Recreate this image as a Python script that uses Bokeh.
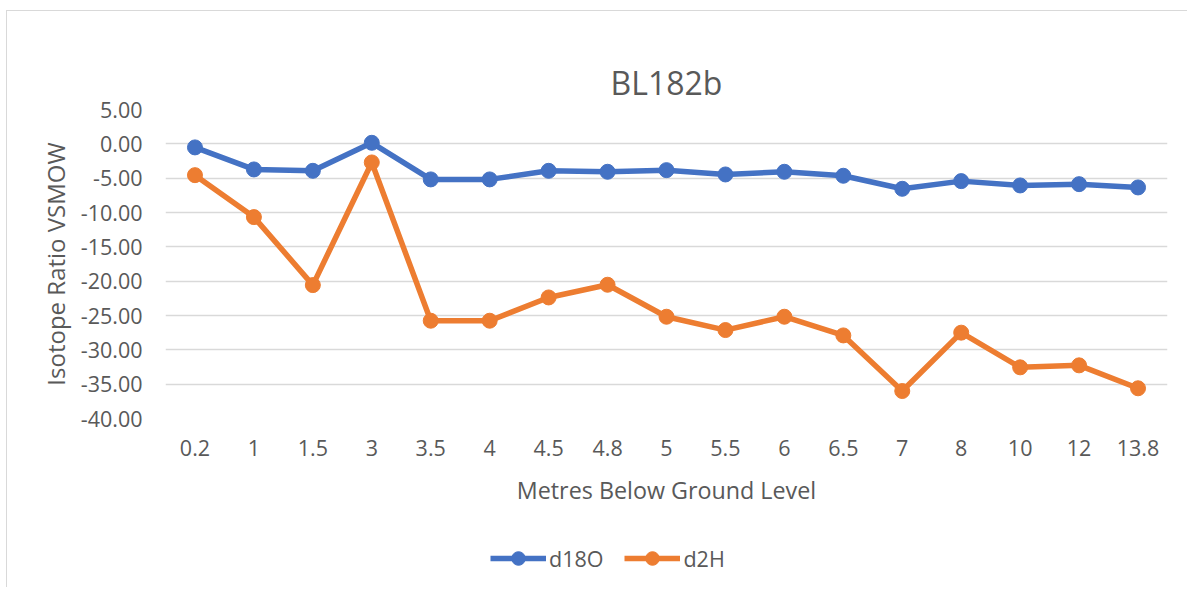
from bokeh.plotting import figure
from bokeh.layouts import column
from bokeh.models import (FactorRange, Range1d, FixedTicker, NumeralTickFormatter, Legend, LegendItem,
                          ColumnDataSource, Title)
from bokeh.embed import file_html
from bokeh.resources import INLINE

depths = ["0.2", "1", "1.5", "3", "3.5", "4", "4.5", "4.8", "5", "5.5", "6", "6.5", "7", "8", "10", "12", "13.8"]
d18O = [-0.52, -3.73, -3.93, 0.15, -5.18, -5.18, -3.93, -4.07, -3.83, -4.46, -4.07, -4.65, -6.55, -5.43, -6.06, -5.87, -6.35]
d2H = [-4.56, -10.67, -20.57, -2.71, -25.76, -25.76, -22.37, -20.52, -25.18, -27.12, -25.18, -27.90, -36.00, -27.50, -32.55, -32.26, -35.60]
y_ticks = list(range(-40, 6, 5))
series_names = ["d18O", "d2H"]

FONT = "Open Sans"
TXT = "#595959"
BLUE = "#4472C4"
ORANGE = "#ED7D31"

p = figure(x_range=FactorRange(*depths, range_padding=0), y_range=Range1d(-40, 5),
           frame_width=1002, frame_height=309,
           min_border_left=158, min_border_right=14, min_border_top=98, min_border_bottom=109,
           output_backend="svg", toolbar_location=None, tools="", title=None)
p.outline_line_color = None
p.background_fill_color = "white"
p.border_fill_color = "white"

p.add_layout(Title(text="BL182b", align="center", offset=-64, vertical_align="middle",
                   text_font=FONT, text_font_size="32px",
                   text_font_style="normal", text_color=TXT), "above")

src = ColumnDataSource(dict(x=depths, a=d18O, b=d2H))
p.line("x", "a", source=src, line_color=BLUE, line_width=5.5)
p.scatter("x", "a", source=src, size=15, fill_color=BLUE, line_color=BLUE)
p.line("x", "b", source=src, line_color=ORANGE, line_width=5.5)
p.scatter("x", "b", source=src, size=15, fill_color=ORANGE, line_color=ORANGE)

p.xgrid.grid_line_color = None
p.ygrid.grid_line_color = "#d9d9d9"
p.ygrid.grid_line_width = 1.5
p.yaxis.ticker = FixedTicker(ticks=y_ticks)
p.yaxis.formatter = NumeralTickFormatter(format="0.00")

for ax in (p.xaxis[0], p.yaxis[0]):
    ax.axis_line_color = None
    ax.major_tick_line_color = None
    ax.minor_tick_line_color = None
    ax.major_tick_out = 0
    ax.major_label_text_font = FONT
    ax.major_label_text_font_size = "21.5px"
    ax.major_label_text_color = TXT
    ax.axis_label_text_font = FONT
    ax.axis_label_text_font_style = "normal"
    ax.axis_label_text_color = TXT

p.yaxis.axis_label = "Isotope Ratio VSMOW"
p.yaxis.axis_label_text_font_size = "24px"
p.yaxis.major_label_standoff = 23
p.yaxis.axis_label_standoff = 6
p.xaxis.axis_label = "Metres Below Ground Level"
p.xaxis.axis_label_text_font_size = "23.3px"
p.xaxis.major_label_standoff = 21
p.xaxis.axis_label_standoff = 15

# legend strip underneath the chart (its frame is aligned with the chart's frame)
lg = figure(width=1180, height=60, x_range=Range1d(0, 1), y_range=Range1d(0, 1),
            min_border=0, output_backend="svg", toolbar_location=None, tools="")
lg.axis.visible = False
lg.grid.visible = False
lg.outline_line_color = None
lg.background_fill_color = "white"
lg.border_fill_color = "white"
key_src = ColumnDataSource(dict(x=[float("nan")], y=[float("nan")]))
items = []
for name, col in zip(series_names, (BLUE, ORANGE)):
    r1 = lg.line("x", "y", source=key_src, line_color=col, line_width=5.5)
    r2 = lg.scatter("x", "y", source=key_src, size=15, fill_color=col, line_color=col)
    items.append(LegendItem(label=name, renderers=[r1, r2]))
legend = Legend(items=items, location=(325, 12), orientation="horizontal",
                glyph_width=56, glyph_height=34, label_standoff=3, spacing=21,
                padding=0, margin=0, border_line_color=None, background_fill_alpha=0,
                label_text_font=FONT, label_text_font_size="21.5px", label_text_color=TXT)
lg.add_layout(legend, "center")

layout = column(p, lg, spacing=0)
layout.styles = {"border-left": "1px solid #d9d9d9", "border-top": "1px solid #d9d9d9",
                 "margin-left": "6px", "margin-top": "10px"}

open("out.html", "w").write(file_html(layout, INLINE))
